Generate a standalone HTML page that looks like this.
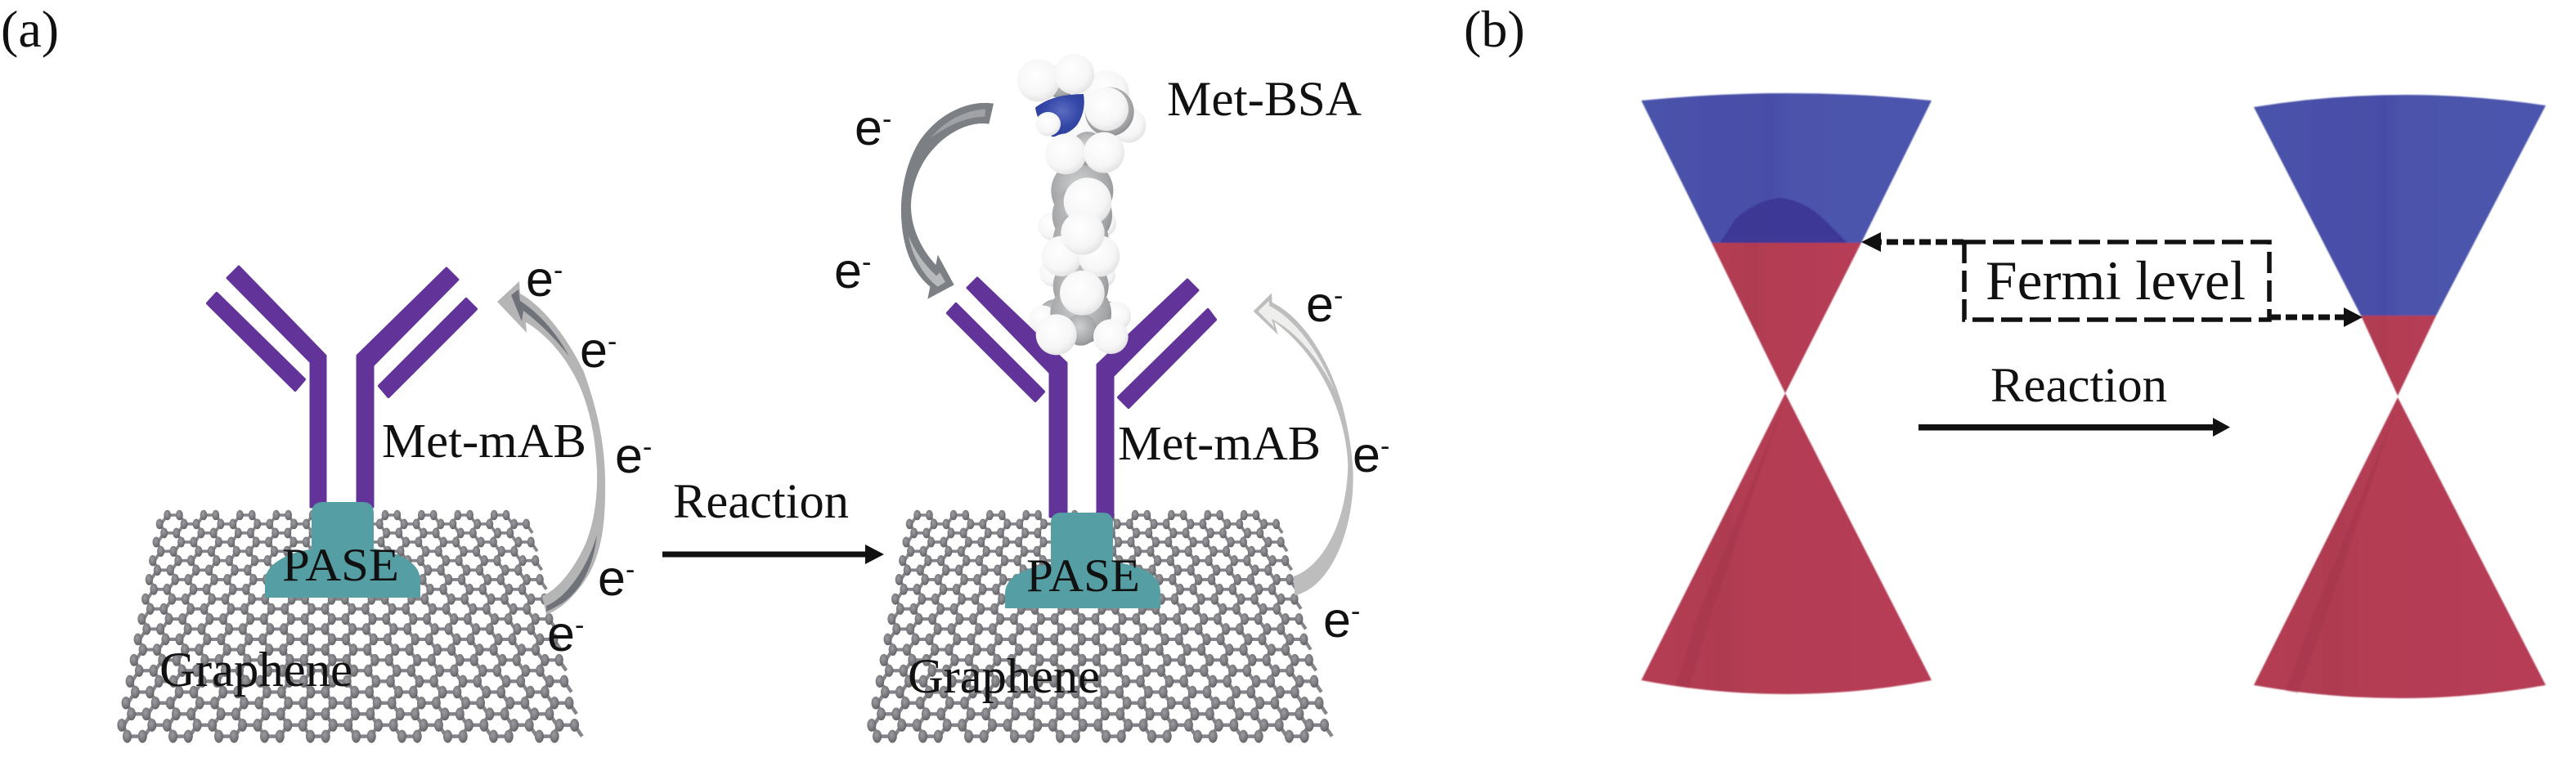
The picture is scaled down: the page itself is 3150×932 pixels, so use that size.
<!DOCTYPE html>
<html><head><meta charset="utf-8"><style>
html,body{margin:0;padding:0;background:#fff;width:3150px;height:932px;overflow:hidden}
svg{display:block}
text{font-family:"Liberation Serif",serif;fill:#111}
.e{font-family:"Liberation Sans",sans-serif;font-size:61px}
.e tspan{font-size:34px}
</style></head><body>
<svg xmlns="http://www.w3.org/2000/svg" width="3150" height="932" viewBox="0 0 3150 932">
<defs>
<radialGradient id="at" cx=".42" cy=".38" r=".65"><stop offset="0" stop-color="#9c9ca0"/><stop offset=".6" stop-color="#7b7b80"/><stop offset="1" stop-color="#5e5e62"/></radialGradient>
<radialGradient id="w" cx=".42" cy=".38" r=".7"><stop offset="0" stop-color="#fff"/><stop offset=".65" stop-color="#f6f6f6"/><stop offset=".92" stop-color="#e2e2e2"/><stop offset="1" stop-color="#cfcfcf"/></radialGradient>
<radialGradient id="g" cx=".45" cy=".4" r=".7"><stop offset="0" stop-color="#cfd0d1"/><stop offset=".7" stop-color="#a3a4a6"/><stop offset="1" stop-color="#808183"/></radialGradient>
<radialGradient id="bl" cx=".55" cy=".4" r=".7"><stop offset="0" stop-color="#5b6cc0"/><stop offset=".5" stop-color="#3548a8"/><stop offset="1" stop-color="#2a3a96"/></radialGradient>
<linearGradient id="blue" x1="0" x2="1" y1="0" y2="0"><stop offset="0" stop-color="#4a52aa"/><stop offset=".45" stop-color="#474ea6"/><stop offset=".52" stop-color="#4b53aa"/><stop offset="1" stop-color="#4b54ad"/></linearGradient>
<linearGradient id="red" x1="0" x2="1" y1="0" y2="0"><stop offset="0" stop-color="#b53c52"/><stop offset=".3" stop-color="#ae3b51"/><stop offset=".36" stop-color="#b33c53"/><stop offset="1" stop-color="#b63e54"/></linearGradient>
<filter id="soft" x="-5%" y="-5%" width="110%" height="110%"><feGaussianBlur stdDeviation=".9"/></filter>

<g id="a"><line x1="-7.4" y1="0" x2="7.4" y2="0" stroke="#84848a" stroke-width="3.6"/><ellipse cx="-7.4" cy="0" rx="4.4" ry="6.4" fill="url(#at)"/><ellipse cx="7.4" cy="0" rx="4.4" ry="6.4" fill="url(#at)"/></g>
<g id="c"><line x1="7.4" y1="0" x2="14.8" y2="11" stroke="#84848a" stroke-width="3.6"/><line x1="-7.4" y1="0" x2="-14.8" y2="11" stroke="#84848a" stroke-width="3.6"/><use href="#a"/></g>
<g id="ev"><use href="#c"/><use href="#c" x="44.4"/><use href="#c" x="88.8"/><use href="#c" x="133.2"/><use href="#c" x="177.6"/><use href="#c" x="222"/><use href="#c" x="266.4"/><use href="#c" x="310.8"/><use href="#c" x="355.2"/><use href="#c" x="399.6"/></g>
<g id="od"><g transform="translate(22.2,0)"><use href="#ev"/></g><line x1="-14.8" y1="0" x2="-7.4" y2="11" stroke="#84848a" stroke-width="3.6"/><ellipse cx="-14.8" cy="0" rx="4.4" ry="6.4" fill="url(#at)"/></g>
<g id="last"><use href="#a"/><use href="#a" x="44.4"/><use href="#a" x="88.8"/><use href="#a" x="133.2"/><use href="#a" x="177.6"/><use href="#a" x="222"/><use href="#a" x="266.4"/><use href="#a" x="310.8"/><use href="#a" x="355.2"/><use href="#a" x="399.6"/></g>

<g id="sheet">
<use href="#ev" transform="translate(212,630) scale(1,.982)"/>
<use href="#od" transform="translate(210.1,640.9) scale(1.01,.995)"/>
<use href="#ev" transform="translate(208.2,651.9) scale(1.021,1.006)"/>
<use href="#od" transform="translate(206.3,663) scale(1.032,1.019)"/>
<use href="#ev" transform="translate(204.3,674.3) scale(1.043,1.032)"/>
<use href="#od" transform="translate(202.3,685.7) scale(1.054,1.044)"/>
<use href="#ev" transform="translate(200.3,697.3) scale(1.065,1.056)"/>
<use href="#od" transform="translate(198.3,708.9) scale(1.076,1.069)"/>
<use href="#ev" transform="translate(196.2,720.8) scale(1.087,1.081)"/>
<use href="#od" transform="translate(194.1,732.7) scale(1.099,1.094)"/>
<use href="#ev" transform="translate(192,744.8) scale(1.111,1.106)"/>
<use href="#od" transform="translate(189.9,757.1) scale(1.122,1.118)"/>
<use href="#ev" transform="translate(187.7,769.4) scale(1.134,1.131)"/>
<use href="#od" transform="translate(185.5,781.9) scale(1.146,1.143)"/>
<use href="#ev" transform="translate(183.3,794.6) scale(1.159,1.156)"/>
<use href="#od" transform="translate(181.1,807.3) scale(1.171,1.168)"/>
<use href="#ev" transform="translate(178.9,820.3) scale(1.183,1.18)"/>
<use href="#od" transform="translate(176.6,833.3) scale(1.196,1.193)"/>
<use href="#ev" transform="translate(174.3,846.5) scale(1.209,1.205)"/>
<use href="#od" transform="translate(172,859.8) scale(1.221,1.218)"/>
<use href="#ev" transform="translate(169.7,873.3) scale(1.234,1.23)"/>
<use href="#od" transform="translate(167.3,886.9) scale(1.247,1.242)"/>
<use href="#last" transform="translate(164.9,900.6) scale(1.261,1.255)"/>
</g>
</defs>

<!-- panel labels -->
<text x="1" y="57" font-size="64">(a)</text>
<text x="1790" y="57" font-size="64">(b)</text>

<!-- graphene sheets -->
<use href="#sheet"/>
<use href="#sheet" x="917"/>

<!-- antibody A -->
<g fill="#62349a" stroke="#62349a" stroke-width="3" stroke-linejoin="round">
<path d="M380 620V443L278 340L292 326L398 435V620Z"/>
<path d="M437 620V435L546 328L560 342L456 447V620Z"/>
</g>
<g fill="#62349a" stroke="#62349a" stroke-width="4" stroke-linejoin="round">
<path d="M265 359L254 371L361 477L372 464Z"/>
<path d="M570 366L582 378L475 485L464 472Z"/>
</g>
<!-- antibody B -->
<g fill="#62349a" stroke="#62349a" stroke-width="3" stroke-linejoin="round">
<path d="M1284 632V456L1183 352L1195 340L1304 444V632Z"/>
<path d="M1342 632V446L1452 342L1465 355L1361 460V632Z"/>
</g>
<g fill="#62349a" stroke="#62349a" stroke-width="4" stroke-linejoin="round">
<path d="M1169 372L1159 383L1266 490L1276 479Z"/>
<path d="M1477 379L1486 391L1380 498L1368 486Z"/>
</g>

<!-- PASE -->
<path d="M381 628Q381 614 395 614H443Q457 614 457 628V671Q490 676 505 690Q514 698 514 712V731H324V712Q324 696 340 686Q358 674 381 672Z" fill="#559ea4"/>
<path d="M1285 640Q1285 627 1298 627H1348Q1361 627 1361 640V687Q1396 692 1410 704Q1419 712 1419 726V744H1229V726Q1229 711 1245 702Q1262 692 1285 690Z" fill="#559ea4"/>

<!-- molecule -->
<g transform="translate(1220,50) scale(.33333)">
<circle cx="400" cy="190" r="82" fill="url(#w)"/>
<circle cx="480" cy="310" r="64" fill="url(#w)"/>
<circle cx="300" cy="300" r="80" fill="url(#w)"/>
<circle cx="230" cy="150" r="60" fill="url(#g)"/>
<circle cx="210" cy="1010" r="62" fill="url(#g)"/>
<circle cx="400" cy="1020" r="64" fill="url(#g)"/>
<circle cx="200" cy="680" r="52" fill="url(#w)"/>
<circle cx="385" cy="670" r="50" fill="url(#w)"/>
<circle cx="205" cy="850" r="52" fill="url(#w)"/>
<circle cx="385" cy="860" r="46" fill="url(#w)"/>
<circle cx="165" cy="1020" r="50" fill="url(#w)"/>
<circle cx="435" cy="1010" r="54" fill="url(#w)"/>
<circle cx="310" cy="550" r="114" fill="url(#g)"/>
<circle cx="310" cy="640" r="110" fill="url(#g)"/>
<circle cx="305" cy="730" r="102" fill="url(#g)"/>
<circle cx="305" cy="900" r="102" fill="url(#g)"/>
<circle cx="305" cy="1000" r="112" fill="url(#g)"/>
<circle cx="305" cy="1060" r="58" fill="url(#g)"/>
<circle cx="150" cy="145" r="78" fill="url(#w)"/>
<circle cx="280" cy="122" r="74" fill="url(#w)"/>
<path d="M138 245Q200 195 315 195Q325 260 290 310Q260 345 200 352Q145 300 138 245Z" fill="url(#bl)"/>
<ellipse cx="185" cy="305" rx="46" ry="44" fill="url(#w)"/>
<circle cx="410" cy="260" r="90" fill="url(#g)"/>
<circle cx="400" cy="250" r="80" fill="url(#w)"/>
<circle cx="330" cy="395" r="62" fill="url(#g)"/>
<circle cx="250" cy="415" r="75" fill="url(#w)"/>
<circle cx="390" cy="410" r="75" fill="url(#w)"/>
<circle cx="330" cy="590" r="88" fill="url(#w)"/>
<circle cx="235" cy="790" r="74" fill="url(#w)"/>
<circle cx="372" cy="790" r="76" fill="url(#w)"/>
<circle cx="312" cy="705" r="80" fill="url(#w)"/>
<circle cx="310" cy="925" r="82" fill="url(#w)"/>
<circle cx="215" cy="1078" r="75" fill="url(#w)"/>
<circle cx="415" cy="1085" r="64" fill="url(#w)"/>
</g>

<!-- arrow A (first antibody) -->
<path d="M608 369L635 344L636 359C665 375 695 415 714 455C732 505 741 550 740 600C740 665 728 700 700 729C690 740 680 747 668 752L663 729C685 720 705 690 716 665C726 640 731 610 730 575C728 530 720 500 710 475C695 440 670 410 643 394L644 407Z" fill="#b5b5b5"/>
<path d="M625 361L634 354L636 368C662 385 682 410 696 436C680 415 660 395 640 380L638 393Z" fill="#6f7278"/>
<path d="M668 741C695 730 720 690 730 654C725 700 705 730 680 742C675 745 670 747 668 748Z" fill="#6f7278"/>

<!-- arrow left-top -->
<g transform="translate(1050,100) scale(.33333)">
<path d="M495 80C400 65 290 120 225 215C170 300 150 420 157 510C165 620 200 700 262 752L253 797L350 745L290 635L283 672C235 620 190 540 192 450C195 370 230 290 280 240C340 175 420 145 478 155Z" fill="#7c7f83"/>
<path d="M465 100C390 105 320 140 265 205C330 160 390 130 463 128Z" fill="#a0a2a5"/>
<path d="M183 565C195 640 240 715 290 752L318 735L298 700L285 712C240 670 205 620 183 565Z" fill="#b8b9ba"/>
</g>

<!-- arrow right -->
<g transform="translate(1520,340) scale(.33333)">
<path d="M38 122L105 55L107 90C210 140 310 280 365 470C395 590 408 690 403 770C395 940 320 1135 190 1165L185 1095C290 1060 380 900 385 690C380 520 300 300 115 160L128 208Z" fill="#bdbdbd"/>
<path d="M55 122L95 84L97 102C190 150 280 270 335 410C280 300 200 200 105 150L115 182Z" fill="#eeeeec"/>
</g>

<!-- reaction arrow a -->
<rect x="810" y="674.5" width="250" height="7" fill="#111"/>
<path d="M1058 666L1081 678L1058 690Z" fill="#111"/>

<!-- labels a -->
<text x="345" y="710" font-size="57" textLength="143" lengthAdjust="spacingAndGlyphs">PASE</text>
<text x="1255" y="723" font-size="57" textLength="139" lengthAdjust="spacingAndGlyphs">PASE</text>
<text x="467" y="559" font-size="59" textLength="250" lengthAdjust="spacingAndGlyphs">Met-mAB</text>
<text x="1367" y="562" font-size="59" textLength="248" lengthAdjust="spacingAndGlyphs">Met-mAB</text>
<text x="195" y="839" font-size="60" textLength="236" lengthAdjust="spacingAndGlyphs">Graphene</text>
<text x="1110" y="847" font-size="60" textLength="235" lengthAdjust="spacingAndGlyphs">Graphene</text>
<text x="823" y="633" font-size="60" textLength="215" lengthAdjust="spacingAndGlyphs">Reaction</text>
<text x="1427" y="141" font-size="60" textLength="238" lengthAdjust="spacingAndGlyphs">Met-BSA</text>

<g class="e">
<text class="e" x="643" y="362">e<tspan dy="-20">-</tspan></text>
<text class="e" x="709" y="449">e<tspan dy="-20">-</tspan></text>
<text class="e" x="752" y="578">e<tspan dy="-20">-</tspan></text>
<text class="e" x="731" y="728">e<tspan dy="-20">-</tspan></text>
<text class="e" x="669" y="796">e<tspan dy="-20">-</tspan></text>
<text class="e" x="1045" y="177">e<tspan dy="-20">-</tspan></text>
<text class="e" x="1020" y="352">e<tspan dy="-20">-</tspan></text>
<text class="e" x="1597" y="393">e<tspan dy="-20">-</tspan></text>
<text class="e" x="1654" y="577">e<tspan dy="-20">-</tspan></text>
<text class="e" x="1618" y="779">e<tspan dy="-20">-</tspan></text>
</g>

<!-- cones -->
<g filter="url(#soft)">
<g transform="translate(-3,0)">
<path d="M2010 123Q2187 105 2365 123L2279 297H2096Z" fill="url(#blue)"/>
<path d="M2106 297L2125 268Q2150 245 2180 242Q2210 245 2235 270L2262 297Z" fill="#3a3290" opacity=".8"/>
<path d="M2096 297H2279L2186 481Z" fill="url(#red)"/>
<path d="M2186 481L2010 832Q2187 866 2365 832Z" fill="url(#red)"/>
<path d="M2186 490L2080 750L2052 838L2068 842L2095 752Z" fill="#9d3549" opacity=".3"/>
</g>
<g transform="translate(-5,0)">
<path d="M2761 131Q2940 102 3118 129L2984 386H2892Z" fill="url(#blue)"/>
<path d="M2892 386H2984L2937 484Z" fill="url(#red)"/>
<path d="M2937 486L2761 838Q2940 870 3118 838Z" fill="url(#red)"/>
<path d="M2937 495L2835 750L2800 845L2815 848L2850 752Z" fill="#9d3549" opacity=".3"/>
</g>
</g>

<!-- fermi box -->
<rect x="2402" y="296" width="373" height="95" fill="none" stroke="#111" stroke-width="5.5" stroke-dasharray="26 9"/>
<line x1="2401" y1="296" x2="2298" y2="296" stroke="#111" stroke-width="7" stroke-dasharray="14 6"/>
<path d="M2276 296L2300 284V308Z" fill="#111"/>
<line x1="2775" y1="388" x2="2870" y2="388" stroke="#111" stroke-width="7" stroke-dasharray="14 6"/>
<path d="M2889 388L2866 376V400Z" fill="#111"/>
<text x="2428" y="366" font-size="68" textLength="318" lengthAdjust="spacingAndGlyphs">Fermi level</text>
<text x="2434" y="491" font-size="60" textLength="216" lengthAdjust="spacingAndGlyphs">Reaction</text>
<rect x="2346" y="519" width="362" height="7.5" fill="#111"/>
<path d="M2706 511L2727 522.5L2706 534Z" fill="#111"/>
</svg>
</body></html>
